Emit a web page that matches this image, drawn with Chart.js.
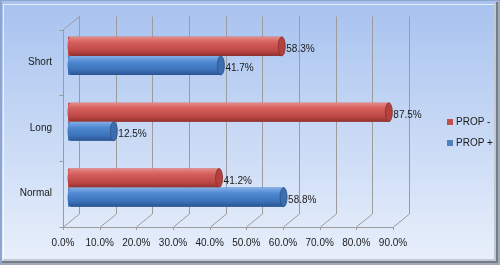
<!DOCTYPE html>
<html>
<head>
<meta charset="utf-8">
<script src="https://cdn.jsdelivr.net/npm/chart.js@4"></script>
<style>
  html, body { margin: 0; padding: 0; background: #fff; }
  #wrap { width: 500px; height: 265px; }
</style>
</head>
<body>
<div id="wrap"><canvas id="propChart" width="500" height="265"></canvas></div>
<script>
// data
const categories = ['Short', 'Long', 'Normal'];
const propMinus = [58.3, 87.5, 41.2];
const propPlus = [41.7, 12.5, 58.8];
const xTicks = [0, 10, 20, 30, 40, 50, 60, 70, 80, 90];

const FONT = 'Liberation Sans, Arial, sans-serif';
const gridColor = '#9c9c9c';

// background and frame
const framePlugin = {
    id: 'frame',
    beforeDraw(chart) {
        const c = chart.ctx;
        const w = chart.width, h = chart.height;
        c.save();
        const g = c.createLinearGradient(0, 0, 0, h);
        g.addColorStop(0, '#a7c2ef');
        g.addColorStop(1, '#e9f0fb');
        c.fillStyle = g;
        c.fillRect(0, 0, w, h);
        // outer edge, left/top
        c.fillStyle = '#8ea5cf';
        c.fillRect(0, 0, 2, h);
        c.fillRect(0, 0, w, 1);
        c.fillStyle = 'rgba(255,255,255,0.7)';
        c.fillRect(3, 4, w - 8, 1);
        c.fillRect(3, 4, 1, h - 8);
        // shadow right/bottom
        c.fillStyle = '#c3c9d2';
        c.fillRect(w - 6, 3, 2, h - 6);
        c.fillRect(3, h - 6, w - 6, 2);
        c.fillStyle = '#727c8a';
        c.fillRect(w - 4, 2, 2, h - 3);
        c.fillRect(2, h - 4, w - 3, 2);
        c.fillStyle = '#a3aab4';
        c.fillRect(w - 2, 1, 2, h - 1);
        c.fillRect(1, h - 2, w - 1, 2);
        c.restore();
    }
};

// 3D walls: back gridlines, floor, left wall
const wallsPlugin = {
    id: 'walls',
    beforeDatasetsDraw(chart) {
        const c = chart.ctx;
        const xs = chart.scales.x;
        const a = chart.chartArea;
        const fx = -5, bx = 11, fy = 6.5, by = -6.5;
        c.save();
        c.strokeStyle = gridColor;
        c.lineWidth = 1;
        c.beginPath();
        xTicks.forEach(v => {
            const p = Math.round(xs.getPixelForValue(v));
            // back wall line
            c.moveTo(p + bx + 0.5, a.top + by);
            c.lineTo(p + bx + 0.5, a.bottom + by);
            // floor diagonal
            c.lineTo(p + fx + 0.5, a.bottom + fy);
            // tick under the front edge
            c.lineTo(p + fx + 0.5, a.bottom + fy + 3);
        });
        // front floor edge
        const x0 = Math.round(xs.getPixelForValue(0)) + fx + 0.5;
        const x9 = Math.round(xs.getPixelForValue(90)) + fx + 0.5;
        const yb = Math.round(a.bottom + fy) + 0.5;
        c.moveTo(x0, yb);
        c.lineTo(x9, yb);
        // left wall front edge and top
        c.moveTo(x0, yb);
        c.lineTo(x0, a.top + fy);
        c.lineTo(x0 + bx - fx, a.top + by);
        // category boundary ticks
        const n = categories.length;
        for (let i = 0; i <= n; i++) {
            const y = Math.round(a.top + (a.bottom - a.top) * i / n + fy) + 0.5;
            c.moveTo(x0 - 4, y);
            c.lineTo(x0, y);
        }
        c.stroke();
        c.restore();
    }
};

const shades = [
    { top: '#e68a87', mid: '#d45e5b', low: '#bb4643', bot: '#8e302e', cap: '#b2423f', capEdge: '#8a2f2d' },
    { top: '#83aee6', mid: '#4f8ad3', low: '#3b70b6', bot: '#2a5391', cap: '#3c6dae', capEdge: '#2a5088' }
];

// cylinders over the flat bars, plus value labels
const cylinderPlugin = {
    id: 'cylinders',
    afterDatasetsDraw(chart) {
        const c = chart.ctx;
        c.save();
        chart.data.datasets.forEach((ds, di) => {
            const meta = chart.getDatasetMeta(di);
            const s = shades[di];
            meta.data.forEach((el, i) => {
                const { x, y, base, height } = el.getProps(['x', 'y', 'base', 'height'], true);
                const r = height / 2, ex = 3.5;
                const g = c.createLinearGradient(0, y - r, 0, y + r);
                g.addColorStop(0, s.top);
                g.addColorStop(0.3, s.mid);
                g.addColorStop(0.75, s.low);
                g.addColorStop(1, s.bot);
                c.fillStyle = g;
                c.beginPath();
                c.ellipse(base + 3, y, ex, r, 0, Math.PI / 2, Math.PI * 1.5);
                c.lineTo(x, y - r);
                c.lineTo(x, y + r);
                c.closePath();
                c.fill();
                // end cap
                c.beginPath();
                c.ellipse(x, y, ex, r, 0, 0, Math.PI * 2);
                c.fillStyle = s.cap;
                c.fill();
                c.strokeStyle = s.capEdge;
                c.lineWidth = 0.8;
                c.stroke();
                // value label
                c.fillStyle = '#1a1a1a';
                c.font = '10px ' + FONT;
                c.textBaseline = 'middle';
                c.textAlign = 'left';
                c.fillText(ds.data[i].toFixed(1) + '%', x + ex + 1, y + 3);
            });
        });
        c.restore();
    }
};

// legend on the right
const legendPlugin = {
    id: 'sideLegend',
    afterDraw(chart) {
        const c = chart.ctx;
        c.save();
        c.font = '10px ' + FONT;
        c.textBaseline = 'middle';
        c.textAlign = 'left';
        chart.data.datasets.forEach((ds, i) => {
            const y = 122 + i * 21;
            c.fillStyle = ds.backgroundColor;
            c.fillRect(447, y - 3, 6, 6);
            c.fillStyle = '#1a1a1a';
            c.fillText(ds.label, 456, y);
        });
        c.restore();
    }
};

new Chart(document.getElementById('propChart'), {
    type: 'bar',
    data: {
        labels: categories,
        datasets: [
            { label: 'PROP -', data: propMinus, backgroundColor: '#c0504d', borderWidth: 0 },
            { label: 'PROP +', data: propPlus, backgroundColor: '#4f81bd', borderWidth: 0 }
        ]
    },
    options: {
        indexAxis: 'y',
        responsive: false,
        animation: false,
        devicePixelRatio: 1,
        categoryPercentage: 0.58,
        barPercentage: 1,
        layout: { padding: { left: 0, right: 102, top: 23, bottom: 14.5 } },
        plugins: {
            legend: { display: false },
            tooltip: { enabled: false }
        },
        scales: {
            x: {
                min: 0,
                max: 90,
                grid: { display: false, drawTicks: false },
                border: { display: false },
                afterBuildTicks(s) { s.ticks = xTicks.map(v => ({ value: v })); },
                afterFit(s) { s.height = 30; },
                ticks: {
                    padding: 17,
                    labelOffset: -5,
                    color: '#1a1a1a',
                    font: { family: FONT, size: 10 },
                    callback: v => v.toFixed(1) + '%'
                }
            },
            y: {
                grid: { display: false, drawTicks: false },
                border: { display: false },
                afterFit(s) { s.width = 68; },
                ticks: {
                    padding: 16,
                    labelOffset: 6,
                    color: '#1a1a1a',
                    font: { family: FONT, size: 10 }
                }
            }
        }
    },
    plugins: [framePlugin, wallsPlugin, cylinderPlugin, legendPlugin]
});
</script>
</body>
</html>
